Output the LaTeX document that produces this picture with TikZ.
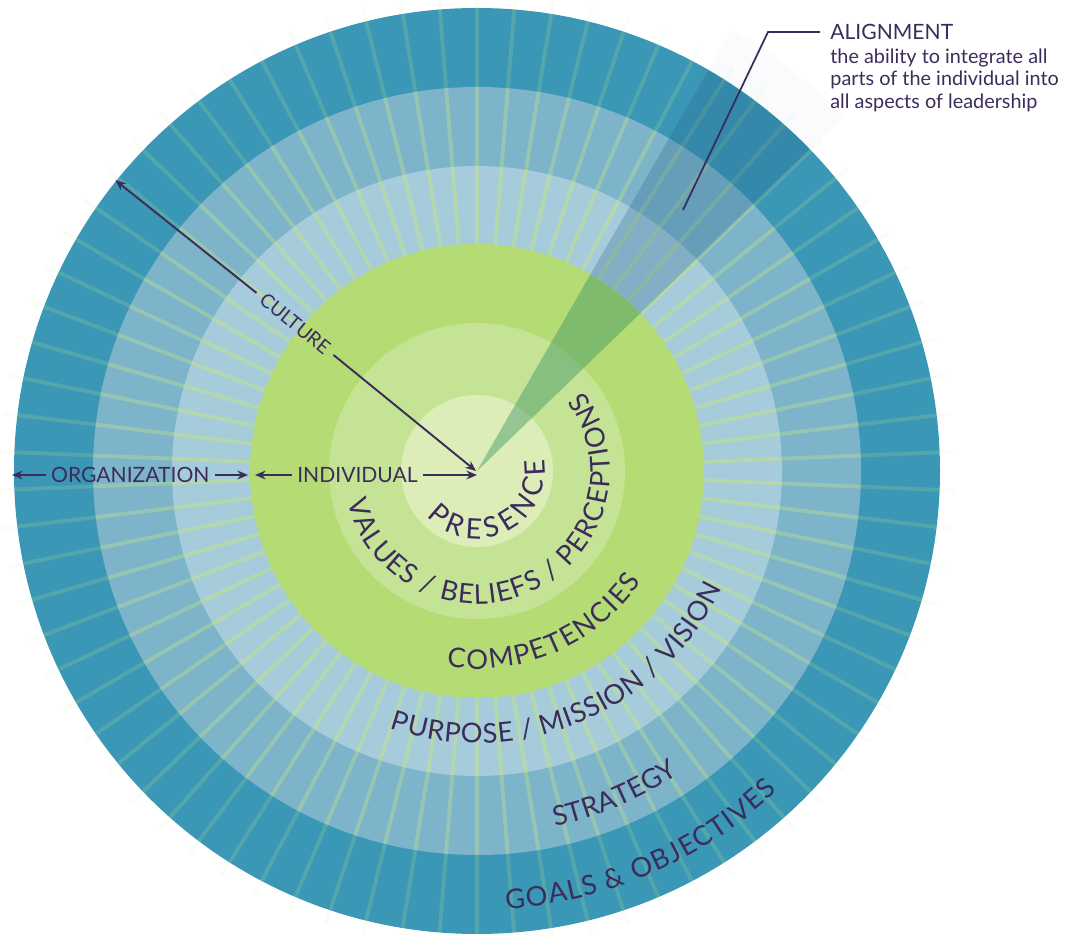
\documentclass[tikz,border=0pt]{standalone}
\usepackage{fontspec}
\setmainfont{Lato}
\usepackage{xcolor}
\usetikzlibrary{positioning,arrows.meta,decorations.text}

\definecolor{ink}{RGB}{60,44,92}
\definecolor{ringA}{RGB}{58,151,182}
\definecolor{ringB}{RGB}{126,180,201}
\definecolor{ringC}{RGB}{166,204,220}
\definecolor{ringD}{RGB}{181,219,116}
\definecolor{ringE}{RGB}{197,227,149}
\definecolor{ringF}{RGB}{221,237,184}
\definecolor{spokec}{RGB}{190,226,140}
\definecolor{wedgeG}{RGB}{60,150,100}
\definecolor{wedgeB}{RGB}{40,100,140}
\definecolor{glow}{RGB}{225,236,242}
\newcommand\ringfont{\fontsize{15.5}{17}\selectfont}
\newcommand\corefont{\fontsize{16}{18}\selectfont}

\begin{document}
\begin{tikzpicture}[x=0.02cm, y=0.02cm, >={Stealth[length=6pt,width=5pt]},
  spoke/.style={draw=spokec, line width=2.2pt},
  lab/.style={text=ink, font=\fontsize{12}{14}\selectfont},
  arr/.style={->, draw=ink, line width=1.1pt},
  callout/.style={draw=ink, line width=1pt},
  curved/.style={decorate, decoration={text along path, text align={fit to path},
    text color=ink, text={|\ringfont|#1}}}]
  \useasboundingbox (-477,-464) rectangle (588,471);

  \foreach \r/\c in {463/ringA, 384/ringB, 305/ringC}
    \fill[\c] (0,0) circle[radius=\r];
  \foreach \i in {0,...,77}{
    \pgfmathsetmacro\a{2.31+4.615*\i}
    \foreach \ri/\ro/\op in {227/305/.55, 305/384/.38, 384/463/.2, 463/478/.07}
      \draw[spoke, opacity=\op] (\a:\ri) -- (\a:\ro);
  }
  \fill[wedgeB, opacity=.28] (44:227) arc[start angle=44, end angle=60, radius=227]
    -- (60:463) arc[start angle=60, end angle=44, radius=463] -- cycle;
  \fill[glow, opacity=.2] (44:463) arc[start angle=44, end angle=60, radius=463]
    -- (60:510) arc[start angle=60, end angle=44, radius=510] -- cycle;
  \foreach \r/\c in {227/ringD, 148/ringE, 76/ringF}
    \fill[\c] (0,0) circle[radius=\r];
  \fill[wedgeG, opacity=.45] (0,0) -- (44:227) arc[start angle=44, end angle=60, radius=227] -- cycle;

  \path[decorate, decoration={text along path, text align={fit to path}, text color=ink,
    text={|\corefont|PRESENCE}}] (-138:68) arc[start angle=-138, end angle=10, radius=68];
  \path[curved={VALUES / BELIEFS / PERCEPTIONS}] (-166.7:133) arc[start angle=-166.7, end angle=37, radius=133];
  \path[curved=COMPETENCIES] (-98.8:198) arc[start angle=-98.8, end angle=-34, radius=198];
  \path[curved={PURPOSE / MISSION / VISION}] (-108.7:272) arc[start angle=-108.7, end angle=-25.6, radius=272];
  \path[curved=STRATEGY] (-77.6:364) arc[start angle=-77.6, end angle=-56.7, radius=364];
  \path[curved={GOALS {\&} OBJECTIVES}] (-86.2:439) arc[start angle=-86.2, end angle=-46.8, radius=439];

  \coordinate (ctr) at (-1,0);
  \coordinate (hub) at (0,-4);
  \coordinate (gin) at (-222,-4);
  \coordinate (gout) at (-229,-4);
  \coordinate (oedge) at (-465,-4);
  \coordinate (cedge) at (141.2:464);
  \node[lab, inner sep=3pt] (indiv) at (-119.5,-4) {INDIVIDUAL};
  \node[lab, inner sep=3pt] (org) at (-346.7,-4) {ORGANIZATION};
  \node[lab, font=\fontsize{11}{12}\selectfont, rotate=-39, inner sep=4pt] (cult) at (141:234) {CULTURE};

  \draw[arr] (indiv) -- (hub);
  \draw[arr] (indiv) -- (gin);
  \draw[arr] (org) -- (gout);
  \draw[arr] (org) -- (oedge);
  \draw[arr] (cult) -- (ctr);
  \draw[arr] (cult) -- (cedge);

  \node[lab, anchor=west, inner xsep=5.7pt, inner ysep=0pt] (alhead) at (343,439) {ALIGNMENT};
  \node[lab, below=5pt of alhead.south west, anchor=north west, inner xsep=5.7pt, inner ysep=0pt,
    align=left, font=\fontsize{11.3}{12.6}\selectfont] (albody)
    {the ability to integrate all\\parts of the individual into\\all aspects of leadership};
  \coordinate (albend) at (291,439);
  \coordinate (altip) at (206,261);
  \draw[callout] (alhead) -- (albend) -- (altip);
\end{tikzpicture}
\end{document}
